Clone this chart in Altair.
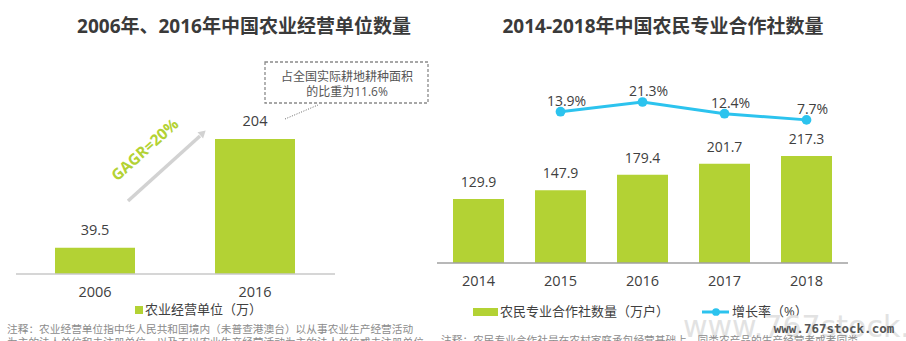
import altair as alt
import pandas as pd

# ---------------- data ----------------
left_years = ["2006", "2016"]
left_values = [39.5, 204]

right_years = ["2014", "2015", "2016", "2017", "2018"]
right_counts = [129.9, 147.9, 179.4, 201.7, 217.3]

growth_years = ["2015", "2016", "2017", "2018"]
growth_rates = [13.9, 21.3, 12.4, 7.7]

left_title = "2006年、2016年中国农业经营单位数量"
right_title = "2014-2018年中国农民专业合作社数量"
left_legend = "农业经营单位（万）"
right_legend_bar = "农民专业合作社数量（万户）"
right_legend_line = "增长率（%）"
box_lines = ["占全国实际耕地耕种面积", "的比重为11.6%"]
gagr_text = "GAGR=20%"
left_note_1 = "注释：农业经营单位指中华人民共和国境内（未普查港澳台）以从事农业生产经营活动"
left_note_2 = "为主的法人单位和未注册单位，以及不以农业生产经营活动为主的法人单位或未注册单位"
right_note = "注释：农民专业合作社是在农村家庭承包经营基础上，同类农产品的生产经营者或者同类"
watermark = "www.767stock.com"

# ---------------- styles ----------------
GREEN = "#b3d234"
CYAN = "#2cc3ee"
TXT = "#404040"
FONT = "Open Sans, Noto Sans CJK SC, sans-serif"

left_df = pd.DataFrame({"year": left_years, "value": left_values,
                        "label": [f"{v:g}" for v in left_values]})
right_df = pd.DataFrame({"year": right_years, "value": right_counts,
                         "label": [f"{v:.1f}" for v in right_counts]})
growth_df = pd.DataFrame({"year": growth_years, "rate": growth_rates,
                          "label": [f"{v:.1f}%" for v in growth_rates]})
one = pd.DataFrame({"k": [0]})

# ---------------- left panel ----------------
xl = alt.X("year:N", axis=None,
           scale=alt.Scale(domain=left_years, range=[15, 335], paddingInner=0.5, paddingOuter=0.25))
yl = alt.Y("value:Q", axis=None,
           scale=alt.Scale(domain=[0, 204], range=[274, 139], nice=False, zero=True))

lb = alt.Chart(left_df)
left_group = alt.layer(
    lb.mark_bar(color=GREEN).encode(x=xl, y=yl),
    lb.mark_text(dy=-17, fontSize=14.5, color=TXT, font=FONT, baseline="middle").encode(x=xl, y=yl, text="label:N"),
    lb.mark_text(fontSize=14.5, color=TXT, font=FONT, baseline="middle").encode(x=xl, y=alt.value(293), text="year:N"),
)

# ---------------- right panel ----------------
xr = alt.X("year:N", axis=None,
           scale=alt.Scale(domain=right_years, range=[437, 848], paddingInner=31 / 82, paddingOuter=16 / 82))
yr = alt.Y("value:Q", axis=None,
           scale=alt.Scale(domain=[0, 217.3], range=[263, 156], nice=False, zero=True))
yg = alt.Y("rate:Q", axis=None,
           scale=alt.Scale(domain=[0, 21.3], range=[130, 102], nice=False, zero=True))

rb = alt.Chart(right_df)
bars_group = alt.layer(
    rb.mark_bar(color=GREEN).encode(x=xr, y=yr),
    rb.mark_text(dy=-16, fontSize=14, color=TXT, font=FONT, baseline="middle").encode(x=xr, y=yr, text="label:N"),
    rb.mark_text(fontSize=14.5, color=TXT, font=FONT, baseline="middle").encode(x=xr, y=alt.value(282), text="year:N"),
)
gb = alt.Chart(growth_df)
line_group = alt.layer(
    gb.mark_line(color=CYAN, strokeWidth=3).encode(x=xr, y=yg),
    gb.mark_circle(color=CYAN, size=95, opacity=1).encode(x=xr, y=yg),
    gb.mark_text(dy=-10, dx=6, fontSize=14, color=TXT, font=FONT, baseline="middle").encode(x=xr, y=yg, text="label:N"),
)
right_group = alt.layer(bars_group, line_group).resolve_scale(y="independent")

# ---------------- decorations ----------------
d = alt.Chart(one)


def txt(s, x, y, size=13, color=TXT, align="center", weight="normal", font=FONT, angle=0):
    kw = dict(text=s, fontSize=size, color=color, align=align, baseline="middle",
              fontWeight=weight, font=font)
    if angle:
        kw["angle"] = angle
    return d.mark_text(**kw).encode(x=alt.value(x), y=alt.value(y))


def rule(x, y, x2, y2, color, width, dash=None):
    kw = dict(color=color, strokeWidth=width)
    if dash:
        kw["strokeDash"] = dash
    return d.mark_rule(**kw).encode(x=alt.value(x), y=alt.value(y), x2=alt.value(x2), y2=alt.value(y2))


decor = [
    # baselines
    rule(16, 274, 335, 274, "#c8c8c8", 1.5),
    rule(437, 263, 848, 263, "#a0a0a0", 1.5),
    # titles
    txt(left_title, 244, 27, size=19, color="#3a3a3a", weight="bold"),
    txt(right_title, 663, 27, size=19, color="#3a3a3a", weight="bold"),
    # growth arrow
    rule(128, 201, 200, 136, "#d2d2d2", 3.5),
    d.mark_point(shape="triangle-up", filled=True, color="#d2d2d2", size=70, angle=48, opacity=1)
     .encode(x=alt.value(203), y=alt.value(133)),
    txt(gagr_text, 145, 150, size=15.5, color=GREEN, weight="bold", angle=318),
    # dashed callout
    d.mark_rect(fill="white", fillOpacity=0, stroke="#8a8a8a", strokeWidth=1.3, strokeDash=[3, 2])
     .encode(x=alt.value(265), x2=alt.value(428), y=alt.value(62), y2=alt.value(103)),
    txt(box_lines[0], 347, 77, size=12, color="#555555"),
    txt(box_lines[1], 347, 92, size=12, color="#555555"),
    rule(285, 119, 318, 105, "#666666", 1, dash=[1, 1.5]),
    # left legend
    d.mark_rect(color=GREEN).encode(x=alt.value(135), x2=alt.value(143), y=alt.value(306), y2=alt.value(314)),
    txt(left_legend, 145, 310, size=13, align="left"),
    # right legend
    d.mark_rect(color=GREEN).encode(x=alt.value(473), x2=alt.value(498), y=alt.value(308), y2=alt.value(316)),
    txt(right_legend_bar, 500, 312, size=13, align="left"),
    rule(702, 312, 729, 312, CYAN, 3),
    d.mark_circle(color=CYAN, size=60, opacity=1).encode(x=alt.value(716), y=alt.value(312)),
    txt(right_legend_line, 732, 312, size=13, align="left"),
    # watermark (faint, behind)
    txt(watermark, 683, 328, size=30, color="#e2e2e2", align="left", font="DejaVu Sans"),
    # notes
    txt(left_note_1, 7, 330, size=10.7, color="#8c8c8c", align="left"),
    txt(left_note_2, 7, 343, size=10.7, color="#8c8c8c", align="left"),
    txt(right_note, 441, 341, size=10.7, color="#8c8c8c", align="left"),
    # watermark (sharp)
    txt(watermark, 834, 329, size=12.5, color="#555555", font="DejaVu Sans Mono", weight="bold"),
]

chart = alt.layer(left_group, right_group, *decor).resolve_scale(
    x="independent", y="independent"
).properties(
    width=906, height=341, padding=0,
    autosize=alt.AutoSizeParams(type="none"),
).configure_view(stroke=None)

chart.save("out.html", embed_options={"renderer": "svg", "actions": False})
